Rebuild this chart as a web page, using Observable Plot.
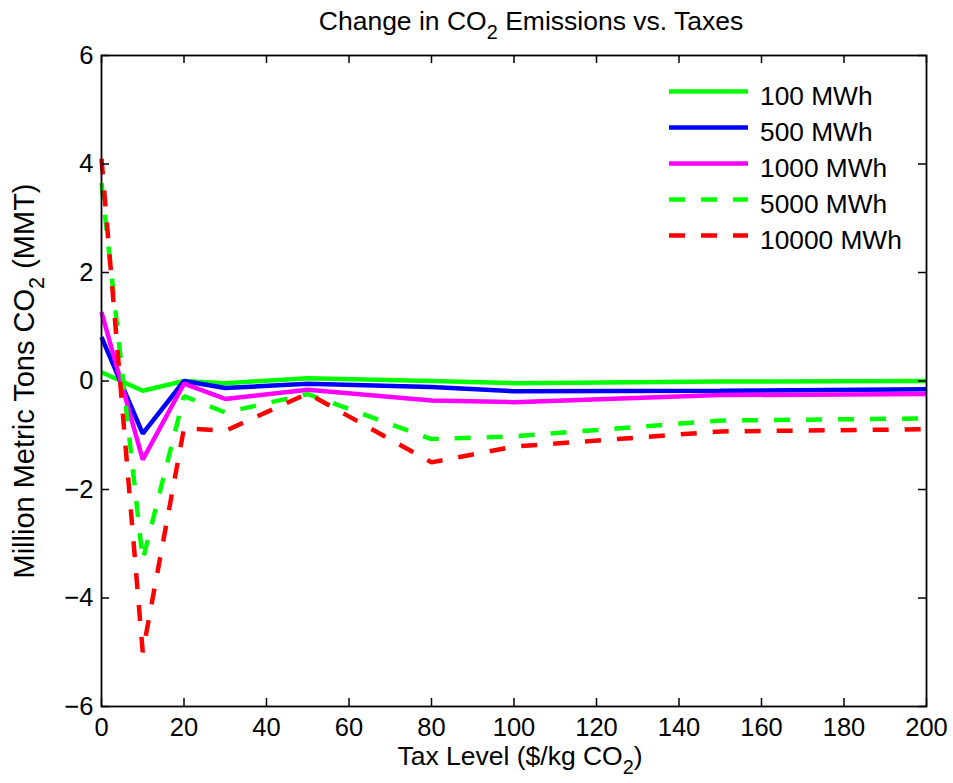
<!DOCTYPE html>
<html><head><meta charset="utf-8">
<script src="https://cdn.jsdelivr.net/npm/d3@7"></script>
<script src="https://cdn.jsdelivr.net/npm/@observablehq/plot@0.6"></script>
<style>
body{margin:0;background:#fff}
#chart svg{font-family:"Liberation Sans",Arial,Helvetica,sans-serif}
</style>
</head><body><div id="chart"></div>
<script>
// Data
const taxLevels = [0, 10, 20, 30, 50, 80, 100, 150, 200];
const mwh100   = [0.16, -0.18, 0.00, -0.04, 0.05, 0.00, -0.04, -0.01, 0.00];
const mwh500   = [0.81, -0.97, 0.00, -0.13, -0.05, -0.11, -0.19, -0.18, -0.15];
const mwh1000  = [1.27, -1.45, -0.05, -0.33, -0.16, -0.36, -0.39, -0.26, -0.24];
const mwh5000  = [3.65, -3.30, -0.28, -0.58, -0.24, -1.07, -1.02, -0.73, -0.69];
const mwh10000 = [4.10, -5.00, -0.87, -0.92, -0.23, -1.50, -1.21, -0.93, -0.89];

const seriesNames  = ["100 MWh", "500 MWh", "1000 MWh", "5000 MWh", "10000 MWh"];
const seriesValues = [mwh100, mwh500, mwh1000, mwh5000, mwh10000];
const seriesColors = ["#00ff00", "#0000ff", "#ff00ff", "#00ff00", "#ff0000"];
const seriesDashed = [false, false, false, true, true];

const xTicks = [0, 20, 40, 60, 80, 100, 120, 140, 160, 180, 200];
const yTicks = [-6, -4, -2, 0, 2, 4, 6];

const rows = [];
seriesValues.forEach((vals, i) => vals.forEach((v, j) =>
  rows.push({series: seriesNames[i], tax: taxLevels[j], value: v})));

const W = 953, H = 783;
const mL = 101, mR = 27, mT = 55, mB = 77;
const frameW = W - mL - mR, frameH = H - mT - mB;
const tickLen = 8;
const tickFs = 25.5;
const fmt = d => d < 0 ? "\u2212" + (-d) : String(d);

const lineMarks = seriesNames.map((name, i) =>
  Plot.line(rows.filter(r => r.series === name), {
    x: "tax", y: "value",
    stroke: seriesColors[i], strokeWidth: 4.5,
    strokeDasharray: seriesDashed[i] ? "16,16" : undefined,
    strokeLinejoin: "miter", strokeLinecap: "butt"
  }));

const plot = Plot.plot({
  width: W, height: H,
  marginLeft: mL, marginRight: mR, marginTop: mT, marginBottom: mB,
  style: {fontFamily: '"Liberation Sans", Arial, sans-serif', fontSize: tickFs + "px", color: "black", background: "white"},
  x: {domain: [0, 200], label: null},
  y: {domain: [-6, 6], label: null},
  marks: [
    ...lineMarks,
    Plot.frame({stroke: "black", strokeWidth: 1.8}),
    Plot.tickX(xTicks, {x: d => d, stroke: "black", strokeWidth: 1.5, insetTop: frameH - tickLen}),
    Plot.tickX(xTicks, {x: d => d, stroke: "black", strokeWidth: 1.5, insetBottom: frameH - tickLen}),
    Plot.tickY(yTicks, {y: d => d, stroke: "black", strokeWidth: 1.5, insetRight: frameW - tickLen}),
    Plot.tickY(yTicks, {y: d => d, stroke: "black", strokeWidth: 1.5, insetLeft: frameW - tickLen}),
    Plot.axisX(xTicks, {tickSize: 0, tickPadding: 11, fontSize: tickFs, tickFormat: fmt, label: null, fill: "black"}),
    Plot.axisY(yTicks, {tickSize: 0, tickPadding: 8, fontSize: tickFs, tickFormat: fmt, label: null, fill: "black"})
  ]
});

document.getElementById("chart").appendChild(plot);

const svg = d3.select(plot);
function subText(sel, parts, fs) {
  let shifted = false;
  const subFs = fs * 0.75, shift = fs * 0.33;
  parts.forEach(([txt, sub]) => {
    const t = sel.append("tspan").text(txt);
    if (sub) { t.attr("font-size", subFs).attr("dy", shift); shifted = true; }
    else if (shifted) { t.attr("dy", -shift); shifted = false; }
  });
}
const labelFs = 26.5;
// Title
const title = svg.append("text").attr("x", 531).attr("y", 30)
  .attr("text-anchor", "middle").attr("font-size", labelFs).attr("fill", "black");
subText(title, [["Change in CO", false], ["2", true], [" Emissions vs. Taxes", false]], labelFs);
// X label
const xl = svg.append("text").attr("x", 520).attr("y", 765)
  .attr("text-anchor", "middle").attr("font-size", labelFs).attr("fill", "black");
subText(xl, [["Tax Level ($/kg CO", false], ["2", true], [")", false]], labelFs);
// Y label
const yFs = 29;
const yl = svg.append("text").attr("transform", "translate(34,381) rotate(-90)")
  .attr("text-anchor", "middle").attr("font-size", yFs).attr("fill", "black");
subText(yl, [["Million Metric Tons CO", false], ["2", true], [" (MMT)", false]], yFs);

// Legend (no box)
const lg = svg.append("g");
seriesNames.forEach((name, i) => {
  const yy = 91.5 + i * 36;
  lg.append("line").attr("x1", 669).attr("x2", 748).attr("y1", yy).attr("y2", yy)
    .attr("stroke", seriesColors[i]).attr("stroke-width", 4.5)
    .attr("stroke-dasharray", seriesDashed[i] ? "16,16" : null);
  lg.append("text").attr("x", 760).attr("y", yy + 4.5).attr("dy", "0.35em")
    .attr("text-anchor", "start")
    .attr("font-size", 26.3).attr("fill", "black").text(name);
});
</script>
</body></html>
